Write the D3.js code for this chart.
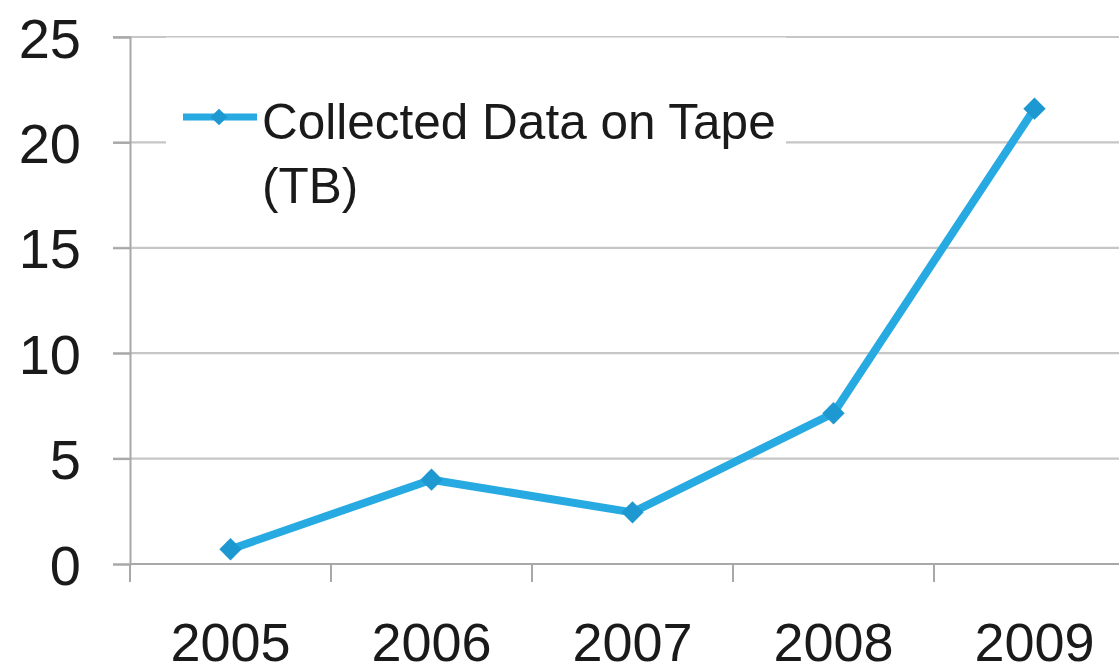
<!DOCTYPE html>
<html><head><meta charset="utf-8">
<script src="https://cdn.jsdelivr.net/npm/d3@7"></script>
<style>html,body{margin:0;padding:0;background:#fff;overflow:hidden}</style>
</head><body>
<svg id="c" width="1119" height="672"></svg>
<script>
const categories = ["2005","2006","2007","2008","2009"];
const values = [0.7, 4.0, 2.45, 7.15, 21.6];
const yTicks = [0, 5, 10, 15, 20, 25];
const seriesName = ["Collected Data on Tape", "(TB)"];

const svg = d3.select("#c");
const font = "'Liberation Sans', Arial, sans-serif";
const x = d3.scaleBand().domain(categories).range([130, 1135]).padding(0);
const y = d3.scaleLinear().domain([0, 25]).range([564, 37]);

// gridlines
svg.append("g").selectAll("line").data(yTicks.filter(d => d > 0)).join("line")
  .attr("x1", 113).attr("x2", 1119)
  .attr("y1", d => y(d)).attr("y2", d => y(d))
  .attr("stroke", "#c6c6c6").attr("stroke-width", 2.2);

// y axis
const yAxis = svg.append("g").attr("transform", "translate(130,0)")
  .call(d3.axisLeft(y).tickValues(yTicks).tickSize(17).tickPadding(32));
yAxis.select(".domain").attr("stroke", "#a8a8a8").attr("stroke-width", 2);
yAxis.selectAll(".tick line").attr("stroke", "#a8a8a8").attr("stroke-width", 2);
yAxis.selectAll("text").attr("font-family", font).attr("font-size", 56)
  .attr("fill", "#1a1a1a").attr("dy", "0.36em").attr("dx", 0);

// x axis baseline
svg.append("line").attr("x1", 130).attr("x2", 1119).attr("y1", y(0)).attr("y2", y(0))
  .attr("stroke", "#a8a8a8").attr("stroke-width", 2);
// x ticks at band edges
const edges = categories.map(c => x(c)).concat([x.range()[1]]);
svg.append("g").selectAll("line").data(edges).join("line")
  .attr("x1", d => d).attr("x2", d => d)
  .attr("y1", y(0)).attr("y2", y(0) + 18)
  .attr("stroke", "#a8a8a8").attr("stroke-width", 2);
// x labels
svg.append("g").selectAll("text").data(categories).join("text")
  .attr("x", d => x(d) + x.bandwidth() / 2).attr("y", 661)
  .attr("text-anchor", "middle").attr("font-family", font).attr("font-size", 54)
  .attr("fill", "#1a1a1a").text(d => d);

// legend box (covers gridlines)
svg.append("rect").attr("x", 166).attr("y", 37.5).attr("width", 620).attr("height", 178)
  .attr("fill", "#fff");
const lineColor = "#27a9e1";
const markColor = "#1e98d0";
const diamond = d3.symbol(d3.symbolSquare, 250)();
svg.append("line").attr("x1", 183).attr("x2", 257).attr("y1", 117).attr("y2", 117)
  .attr("stroke", lineColor).attr("stroke-width", 7);
svg.append("path").attr("d", d3.symbol(d3.symbolSquare, 140)())
  .attr("transform", "translate(219,117) rotate(45)").attr("fill", markColor);
svg.append("text").attr("font-family", font).attr("font-size", 49.5).attr("fill", "#1a1a1a")
  .selectAll("tspan").data(seriesName).join("tspan")
  .attr("x", 262).attr("y", (d, i) => 139 + i * 64).text(d => d);

// series line
svg.append("path").datum(values)
  .attr("d", d3.line().x((d, i) => x(categories[i]) + x.bandwidth() / 2).y(d => y(d)))
  .attr("fill", "none").attr("stroke", lineColor).attr("stroke-width", 8)
  .attr("stroke-linejoin", "round");
svg.append("g").selectAll("path").data(values).join("path")
  .attr("d", diamond)
  .attr("transform", (d, i) => `translate(${x(categories[i]) + x.bandwidth() / 2},${y(d)}) rotate(45)`)
  .attr("fill", markColor);
</script>
</body></html>
